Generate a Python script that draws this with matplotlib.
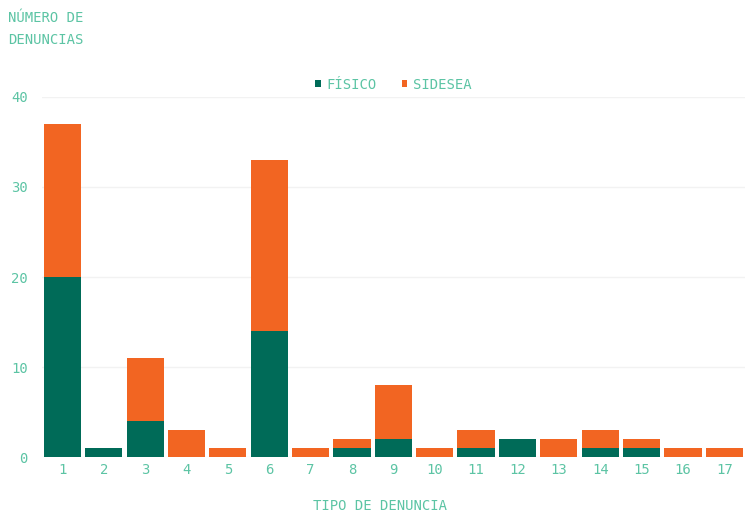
import matplotlib.pyplot as plt
import numpy as np

tipos = [str(i) for i in range(1, 18)]
fisico = [20, 1, 4, 0, 0, 14, 0, 1, 2, 0, 1, 2, 0, 1, 1, 0, 0]
sidesea = [17, 0, 7, 3, 1, 19, 1, 1, 6, 1, 2, 0, 2, 2, 1, 1, 1]

verde = '#006b58'
naranja = '#f26522'
texto = '#5cc4a4'

plt.rcParams['font.family'] = ['DejaVu Sans Mono']

fig = plt.figure(figsize=(7.45, 5.13), dpi=100)
ax = fig.add_axes([0.056, 0.109, 0.944, 0.702])

x = np.arange(1, 18)
ax.bar(x, fisico, width=0.9, color=verde, label='FÍSICO', zorder=3)
ax.bar(x, sidesea, width=0.9, bottom=fisico, color=naranja, label='SIDESEA', zorder=3)

ax.set_xlim(0.5, 17.5)
ax.set_ylim(0, 40)
ax.set_yticks([0, 10, 20, 30, 40])
ax.set_xticks(x)
ax.set_xticklabels(tipos)
ax.tick_params(colors=texto, labelsize=10, length=0)
ax.tick_params(axis='y', pad=10)
ax.tick_params(axis='x', pad=4)
ax.grid(axis='y', color='#f2f2f2', linewidth=1, zorder=0)
for s in ax.spines.values():
    s.set_visible(False)

fig.text(0.51, 0.014, 'TIPO DE DENUNCIA', color=texto, fontsize=10,
         ha='center', va='center')
fig.text(0.011, 0.978, 'NÚMERO DE\nDENUNCIAS', color=texto, fontsize=10,
         va='top', ha='left', linespacing=1.7)

leg = ax.legend(loc='lower center', bbox_to_anchor=(0.5, 0.98), ncol=2, frameon=False,
                handlelength=0.4, handleheight=0.4, handletextpad=0.4, columnspacing=1.8,
                fontsize=10)
for t in leg.get_texts():
    t.set_color(texto)

fig.savefig('out.png', dpi=100)
